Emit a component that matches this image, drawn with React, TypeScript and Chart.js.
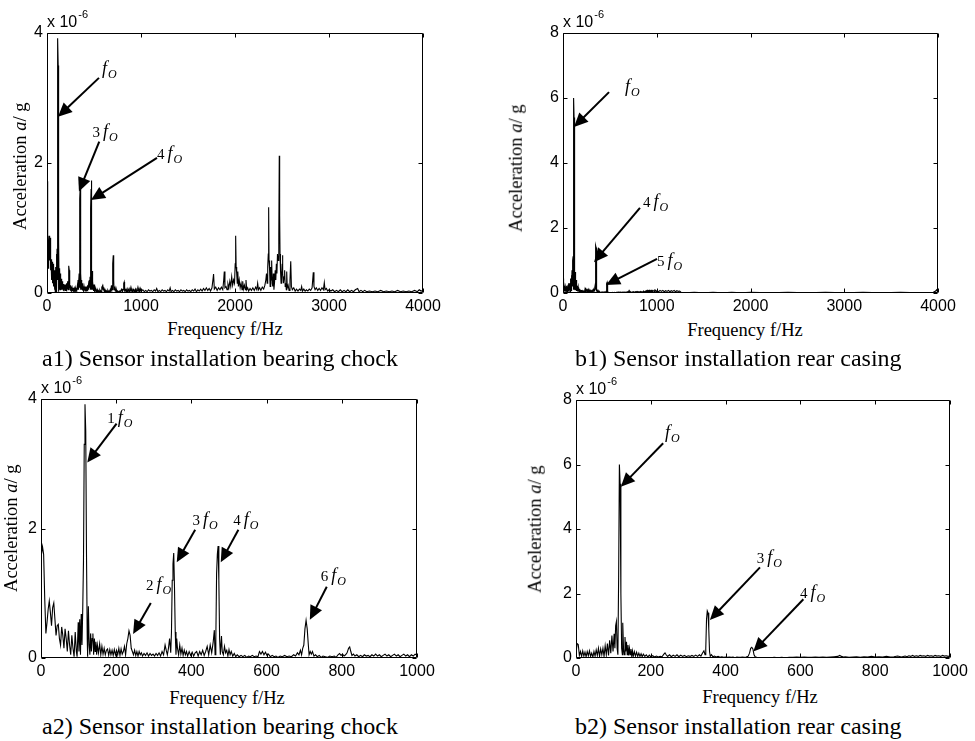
import React, { useEffect, useRef } from "react";
import { Chart, registerables } from "chart.js";

Chart.register(...registerables);

type Pt = [number, number];

// Amplitudes in units of 1e-6 g, frequency in Hz
const chockLowBand: Pt[] = [
  [0, 1.55], [4, 1.72], [7, 1.6], [10, 0.9], [13, 0.38], [16, 0.55], [19, 0.75], [22, 0.88], [25, 0.7], [28, 0.5],
  [31, 0.78], [34, 0.85], [37, 0.6], [40, 0.35], [43, 0.5], [46, 0.52], [49, 0.3], [52, 0.2], [55, 0.48], [58, 0.35],
  [61, 0.15], [64, 0.45], [67, 0.3], [70, 0.1], [73, 0.42], [76, 0.2], [79, 0.05], [82, 0.35], [85, 0.15], [88, 0.02],
  [91, 0.4], [94, 0.1], [96, 0.02], [99, 0.55], [101, 0.1], [103, 0.6], [105, 0.05], [107, 0.68], [109, 0.2], [111, 0.75],
  [113, 1.5], [115, 3.3], [117, 3.92], [119, 3.5], [121, 1.6], [123, 0.3], [124, 0.02], [126, 0.8], [128, 0.2], [130, 0.05],
  [132, 0.38], [134, 0.1], [136, 0.3], [138, 0.38], [140, 0.05], [142, 0.3], [144, 0.1], [146, 0.25], [148, 0.05], [150, 0.2],
  [153, 0.08], [156, 0.22], [159, 0.05], [162, 0.18], [165, 0.06], [168, 0.15], [171, 0.05], [174, 0.12], [177, 0.14], [180, 0.04],
  [183, 0.13], [186, 0.05], [189, 0.12], [192, 0.04], [195, 0.13], [198, 0.05], [201, 0.12], [204, 0.05], [207, 0.15], [210, 0.04],
  [213, 0.14], [216, 0.06], [219, 0.1], [222, 0.18], [225, 0.05], [228, 0.22], [231, 0.3], [234, 0.42], [237, 0.35], [240, 0.15],
  [243, 0.1], [246, 0.05], [249, 0.12], [252, 0.04], [255, 0.1], [258, 0.03], [261, 0.1], [264, 0.05], [267, 0.08], [270, 0.03],
  [274, 0.07], [278, 0.04], [282, 0.08], [286, 0.03], [290, 0.07], [294, 0.04], [298, 0.06], [302, 0.03], [306, 0.07], [310, 0.04],
  [314, 0.08], [318, 0.03], [322, 0.1], [326, 0.05], [330, 0.2], [333, 0.12], [336, 0.05], [339, 0.15], [342, 0.3], [345, 0.08],
  [347, 0.4], [349, 1.2], [351, 1.45], [353, 1.62], [355, 1.1], [357, 0.4], [359, 0.05], [361, 0.3], [363, 0.15], [366, 0.05],
  [369, 0.2], [372, 0.06], [375, 0.15], [378, 0.04], [381, 0.12], [384, 0.05], [387, 0.1], [390, 0.03], [394, 0.1], [398, 0.04],
  [402, 0.09], [406, 0.03], [410, 0.08], [414, 0.1], [418, 0.03], [422, 0.1], [426, 0.05], [430, 0.12], [434, 0.04], [438, 0.1],
  [442, 0.18], [446, 0.05], [450, 0.2], [454, 0.08], [458, 0.25], [461, 0.43], [463, 0.05], [465, 0.3], [467, 1.3], [469, 1.6],
  [471, 1.73], [473, 1.2], [475, 0.3], [477, 0.05], [480, 0.34], [482, 0.1], [485, 0.05], [488, 0.18], [491, 0.08], [494, 0.12],
  [497, 0.03], [500, 0.13], [503, 0.05], [506, 0.1], [510, 0.03], [514, 0.07], [518, 0.02], [522, 0.05], [527, 0.02], [532, 0.04],
  [537, 0.02], [542, 0.04], [547, 0.01], [552, 0.03], [557, 0.02], [562, 0.04], [567, 0.02], [572, 0.03], [577, 0.02], [581, 0.1],
  [585, 0.06], [589, 0.1], [593, 0.05], [597, 0.09], [601, 0.04], [605, 0.06], [610, 0.02], [615, 0.04], [620, 0.02], [625, 0.03],
  [630, 0.01], [636, 0.03], [642, 0.02], [648, 0.04], [654, 0.02], [660, 0.03], [666, 0.02], [672, 0.05], [677, 0.03], [682, 0.08],
  [686, 0.05], [690, 0.12], [693, 0.05], [696, 0.15], [699, 0.2], [702, 0.45], [705, 0.58], [708, 0.45], [711, 0.2], [713, 0.05],
  [716, 0.1], [719, 0.06], [722, 0.1], [726, 0.03], [730, 0.05], [735, 0.02], [740, 0.04], [745, 0.01], [750, 0.03], [756, 0.02],
  [762, 0.01], [768, 0.03], [774, 0.02], [780, 0.03], [785, 0.01], [790, 0.05], [794, 0.07], [798, 0.04], [802, 0.06], [806, 0.03],
  [810, 0.05], [814, 0.08], [818, 0.15], [821, 0.17], [824, 0.1], [827, 0.04], [831, 0.06], [835, 0.03], [840, 0.05], [845, 0.02],
  [850, 0.04], [855, 0.02], [860, 0.05], [865, 0.03], [870, 0.04], [875, 0.02], [880, 0.05], [885, 0.03], [890, 0.06], [895, 0.03],
  [900, 0.05], [905, 0.02], [910, 0.04], [915, 0.06], [920, 0.03], [925, 0.05], [930, 0.02], [935, 0.04], [940, 0.06], [945, 0.03],
  [950, 0.05], [955, 0.02], [960, 0.04], [965, 0.06], [970, 0.03], [975, 0.05], [980, 0.02], [985, 0.05], [990, 0.03], [995, 0.06],
  [1000, 0.04],
];

const chockHighBand: Pt[] = [
  [1005, 0.03], [1020, 0.05], [1035, 0.02], [1050, 0.04], [1065, 0.02], [1080, 0.05], [1095, 0.03], [1110, 0.04], [1125, 0.02], [1140, 0.05],
  [1155, 0.03], [1167, 0.07], [1180, 0.02], [1195, 0.04], [1210, 0.02], [1225, 0.05], [1240, 0.03], [1255, 0.04], [1270, 0.02], [1285, 0.05],
  [1300, 0.03], [1310, 0.08], [1320, 0.02], [1335, 0.04], [1350, 0.02], [1365, 0.05], [1380, 0.03], [1395, 0.04], [1410, 0.02], [1425, 0.05],
  [1440, 0.03], [1455, 0.04], [1470, 0.02], [1485, 0.05], [1500, 0.03], [1515, 0.04], [1530, 0.02], [1545, 0.05], [1560, 0.03], [1575, 0.06],
  [1590, 0.02], [1605, 0.05], [1620, 0.03], [1635, 0.06], [1650, 0.03], [1665, 0.07], [1680, 0.04], [1695, 0.08], [1710, 0.04], [1725, 0.07],
  [1740, 0.03], [1755, 0.08], [1765, 0.2], [1772, 0.29], [1780, 0.06], [1795, 0.09], [1810, 0.04], [1825, 0.08], [1840, 0.05], [1855, 0.09],
  [1870, 0.05], [1880, 0.2], [1886, 0.33], [1893, 0.08], [1905, 0.1], [1915, 0.05], [1925, 0.14], [1935, 0.08], [1945, 0.18], [1955, 0.1],
  [1965, 0.25], [1975, 0.12], [1985, 0.2], [1995, 0.15], [2002, 0.45], [2007, 0.88], [2012, 0.4], [2018, 0.3], [2024, 0.15], [2030, 0.33],
  [2036, 0.1], [2045, 0.2], [2055, 0.08], [2065, 0.15], [2075, 0.05], [2082, 0.18], [2090, 0.06], [2100, 0.12], [2110, 0.05], [2117, 0.2],
  [2125, 0.05], [2135, 0.08], [2145, 0.03], [2160, 0.07], [2175, 0.04], [2190, 0.08], [2205, 0.04], [2220, 0.09], [2232, 0.05], [2241, 0.15],
  [2250, 0.05], [2262, 0.08], [2275, 0.04], [2290, 0.09], [2305, 0.06], [2318, 0.12], [2328, 0.2], [2335, 0.3], [2342, 0.15], [2348, 0.4],
  [2354, 0.6], [2358, 1.32], [2362, 0.5], [2368, 0.35], [2374, 0.1], [2380, 0.4], [2386, 0.2], [2390, 0.5], [2396, 0.15], [2402, 0.1],
  [2408, 0.3], [2414, 0.05], [2420, 0.15], [2428, 0.35], [2434, 0.2], [2440, 0.45], [2446, 0.3], [2452, 0.6], [2458, 0.5], [2464, 0.72],
  [2468, 0.9], [2471, 2.11], [2475, 1.2], [2479, 0.6], [2484, 0.35], [2490, 0.15], [2496, 0.3], [2502, 0.45], [2505, 0.58], [2509, 0.3],
  [2515, 0.15], [2522, 0.25], [2528, 0.35], [2534, 0.1], [2540, 0.15], [2546, 0.05], [2550, 0.33], [2556, 0.08], [2565, 0.12], [2575, 0.04],
  [2585, 0.2], [2593, 0.49], [2600, 0.1], [2610, 0.05], [2625, 0.08], [2640, 0.03], [2655, 0.06], [2670, 0.03], [2685, 0.06], [2700, 0.04],
  [2709, 0.1], [2718, 0.03], [2732, 0.06], [2746, 0.03], [2760, 0.05], [2775, 0.03], [2790, 0.06], [2805, 0.04], [2820, 0.08], [2833, 0.32],
  [2840, 0.1], [2852, 0.05], [2865, 0.08], [2880, 0.04], [2895, 0.07], [2910, 0.04], [2925, 0.08], [2940, 0.05], [2950, 0.16], [2958, 0.05],
  [2972, 0.07], [2986, 0.03], [3000, 0.05], [3020, 0.03], [3040, 0.05], [3060, 0.02], [3080, 0.04], [3100, 0.02], [3120, 0.05], [3140, 0.02],
  [3160, 0.04], [3180, 0.02], [3200, 0.05], [3220, 0.02], [3240, 0.04], [3260, 0.02], [3280, 0.05], [3305, 0.07], [3320, 0.02], [3340, 0.04],
  [3360, 0.02], [3380, 0.04], [3400, 0.02], [3430, 0.03], [3460, 0.02], [3490, 0.03], [3520, 0.02], [3550, 0.04], [3580, 0.02], [3610, 0.03],
  [3640, 0.02], [3670, 0.03], [3700, 0.02], [3730, 0.04], [3760, 0.02], [3790, 0.03], [3820, 0.02], [3850, 0.03], [3880, 0.02], [3910, 0.04],
  [3940, 0.02], [3960, 0.05], [3980, 0.03], [4000, 0.04],
];

const casingLowBand: Pt[] = [
  [0, 0.15], [3, 0.45], [6, 0.42], [9, 0.08], [12, 0.2], [15, 0.05], [18, 0.22], [21, 0.06], [24, 0.18], [27, 0.04],
  [30, 0.2], [33, 0.07], [36, 0.22], [39, 0.05], [42, 0.15], [45, 0.03], [48, 0.2], [51, 0.06], [54, 0.25], [57, 0.08],
  [60, 0.3], [63, 0.05], [66, 0.28], [69, 0.1], [72, 0.3], [75, 0.05], [78, 0.38], [81, 0.1], [84, 0.45], [87, 0.08],
  [90, 0.55], [93, 0.15], [96, 0.7], [99, 0.2], [102, 0.75], [104, 0.3], [106, 1.0], [108, 1.13], [110, 0.3], [112, 0.1],
  [114, 2.5], [116, 6.0], [118, 5.4], [120, 2.0], [122, 0.3], [124, 0.1], [125, 1.09], [127, 0.3], [129, 0.1], [131, 0.65],
  [133, 0.2], [135, 0.5], [137, 0.1], [139, 0.4], [141, 0.08], [143, 0.3], [145, 0.1], [147, 0.28], [149, 0.06], [151, 0.22],
  [153, 0.05], [156, 0.2], [159, 0.06], [162, 0.18], [165, 0.05], [168, 0.15], [171, 0.05], [174, 0.13], [177, 0.04], [180, 0.12],
  [184, 0.05], [188, 0.1], [192, 0.03], [196, 0.09], [200, 0.04], [205, 0.07], [210, 0.03], [215, 0.06], [220, 0.03], [225, 0.05],
  [230, 0.04], [235, 0.12], [238, 0.16], [241, 0.1], [245, 0.05], [250, 0.1], [255, 0.04], [260, 0.09], [265, 0.05], [270, 0.1],
  [275, 0.04], [280, 0.09], [285, 0.05], [290, 0.08], [295, 0.04], [300, 0.07], [305, 0.05], [310, 0.08], [315, 0.05], [320, 0.09],
  [325, 0.05], [330, 0.1], [334, 0.06], [338, 0.15], [342, 0.22], [345, 0.1], [347, 0.3], [349, 1.2], [351, 1.46], [353, 1.4],
  [355, 0.9], [357, 0.2], [359, 0.05], [362, 0.1], [366, 0.04], [370, 0.06], [375, 0.03], [380, 0.05], [385, 0.02], [390, 0.04],
  [395, 0.02], [400, 0.03], [405, 0.02], [410, 0.03], [415, 0.02], [420, 0.03], [425, 0.01], [430, 0.03], [435, 0.02], [440, 0.02],
  [445, 0.03], [450, 0.02], [455, 0.03], [460, 0.05], [464, 0.15], [467, 0.3], [470, 0.33], [473, 0.28], [476, 0.1], [479, 0.04],
  [483, 0.02], [490, 0.01], [500, 0.01], [510, 0.01], [520, 0.01], [530, 0.02], [540, 0.01], [550, 0.02], [560, 0.01], [570, 0.02],
  [580, 0.02], [590, 0.03], [600, 0.02], [610, 0.03], [620, 0.02], [630, 0.02], [640, 0.03], [650, 0.02], [660, 0.03], [670, 0.02],
  [680, 0.03], [690, 0.04], [700, 0.05], [705, 0.08], [710, 0.05], [715, 0.03], [720, 0.04], [730, 0.02], [740, 0.03], [750, 0.04],
  [760, 0.02], [770, 0.04], [780, 0.03], [790, 0.05], [800, 0.03], [810, 0.04], [820, 0.03], [830, 0.05], [840, 0.03], [850, 0.04],
  [860, 0.06], [870, 0.03], [880, 0.06], [885, 0.04], [890, 0.07], [895, 0.05], [900, 0.08], [905, 0.05], [910, 0.07], [915, 0.05],
  [920, 0.08], [925, 0.06], [930, 0.07], [935, 0.05], [940, 0.08], [945, 0.06], [950, 0.07], [955, 0.05], [960, 0.08], [965, 0.06],
  [970, 0.07], [975, 0.05], [980, 0.08], [985, 0.06], [990, 0.07], [995, 0.05], [1000, 0.06],
];

const casingHighBand: Pt[] = [
  [1005, 0.07], [1020, 0.04], [1035, 0.08], [1050, 0.05], [1065, 0.08], [1080, 0.04], [1095, 0.07], [1110, 0.05], [1125, 0.08], [1140, 0.04],
  [1155, 0.07], [1170, 0.05], [1185, 0.08], [1200, 0.04], [1215, 0.07], [1230, 0.05], [1245, 0.06], [1260, 0.02], [1300, 0.01], [1400, 0.02],
  [1500, 0.01], [1600, 0.02], [1700, 0.01], [1800, 0.02], [1900, 0.01], [2000, 0.02], [2200, 0.01], [2400, 0.02], [2600, 0.01], [2800, 0.02],
  [3000, 0.01], [3200, 0.02], [3400, 0.01], [3600, 0.02], [3800, 0.01], [3950, 0.02], [3975, 0.06], [3985, 0.1], [3995, 0.04], [4000, 0.02],
];

const wideFreqTicks = [0, 1000, 2000, 3000, 4000];
const narrowFreqTicks = [0, 200, 400, 600, 800, 1000];
const chockAmpTicks = [0, 2, 4];
const casingAmpTicks = [0, 2, 4, 6, 8];

const captionTexts = [
  "a1) Sensor installation bearing chock",
  "b1) Sensor installation rear casing",
  "a2) Sensor installation bearing chock",
  "b2) Sensor installation rear casing",
];

type Arrow = { prefix: string; labelAt: Pt; tail: Pt; tip: Pt };

const a1Arrows: Arrow[] = [
  { prefix: "", labelAt: [585, 3.37], tail: [553, 3.31], tip: [117, 2.71] },
  { prefix: "3", labelAt: [484, 2.4], tail: [556, 2.33], tip: [340, 1.56] },
  { prefix: "4", labelAt: [1170, 2.06], tail: [1170, 2.08], tip: [468, 1.43] },
];
const b1Arrows: Arrow[] = [
  { prefix: "", labelAt: [661, 6.18], tail: [491, 6.18], tip: [117, 5.11] },
  { prefix: "4", labelAt: [853, 2.65], tail: [821, 2.62], tip: [331, 0.95] },
  { prefix: "5", labelAt: [1003, 0.83], tail: [1003, 1.05], tip: [459, 0.25] },
];
const a2Arrows: Arrow[] = [
  { prefix: "1", labelAt: [176, 3.63], tail: [201, 3.62], tip: [123, 3.02] },
  { prefix: "2", labelAt: [279, 1.05], tail: [292, 0.85], tip: [245, 0.37] },
  { prefix: "3", labelAt: [403, 2.05], tail: [410, 1.98], tip: [361, 1.48] },
  { prefix: "4", labelAt: [511, 2.05], tail: [525, 1.98], tip: [478, 1.48] },
  { prefix: "6", labelAt: [744, 1.19], tail: [760, 1.1], tip: [715, 0.59] },
];
const b2Arrows: Arrow[] = [
  { prefix: "", labelAt: [238, 6.82], tail: [233, 6.66], tip: [120, 5.31] },
  { prefix: "3", labelAt: [483, 2.95], tail: [492, 2.81], tip: [358, 1.18] },
  { prefix: "4", labelAt: [599, 1.86], tail: [608, 1.82], tip: [474, 0.2] },
];

const SANS = '"Liberation Sans", Arial, Helvetica, sans-serif';
const SERIF = '"Liberation Serif", "Times New Roman", Times, serif';

const PAD_L = 42;
const PAD_T = 30;
const PAD_R = 26;
const PAD_B = 24;

type PanelProps = {
  plot: { l: number; t: number; r: number; b: number };
  series: Pt[];
  xTicks: number[];
  yTicks: number[];
  arrows: Arrow[];
};

function Panel({ plot, series, xTicks, yTicks, arrows }: PanelProps) {
  const ref = useRef<HTMLCanvasElement | null>(null);
  const width = plot.r - plot.l + PAD_L + PAD_R;
  const height = plot.b - plot.t + PAD_T + PAD_B;

  useEffect(() => {
    const canvas = ref.current;
    if (!canvas) return;
    const xMax = xTicks[xTicks.length - 1];
    const yMax = yTicks[yTicks.length - 1];

    const framePlugin = {
      id: "frameAndNotes",
      afterDatasetsDraw(chart: any) {
        const ctx: CanvasRenderingContext2D = chart.ctx;
        const { left, right, top, bottom } = chart.chartArea;
        const xs = chart.scales.x;
        const ys = chart.scales.y;
        ctx.save();
        ctx.strokeStyle = "#000";
        ctx.fillStyle = "#000";
        ctx.lineWidth = 1;
        const L = Math.round(left) + 0.5;
        const R = Math.round(right) - 0.5;
        const T = Math.round(top) + 0.5;
        const B = Math.round(bottom) - 0.5;
        ctx.beginPath();
        ctx.rect(L, T, R - L, B - T);
        ctx.stroke();
        const tl = 4;
        ctx.beginPath();
        for (const v of xTicks) {
          const px = Math.round(xs.getPixelForValue(v)) + 0.5;
          ctx.moveTo(px, B);
          ctx.lineTo(px, B - tl);
          ctx.moveTo(px, T);
          ctx.lineTo(px, T + tl);
        }
        for (const v of yTicks) {
          const py = Math.round(ys.getPixelForValue(v)) + 0.5;
          ctx.moveTo(L, py);
          ctx.lineTo(L + tl, py);
          ctx.moveTo(R, py);
          ctx.lineTo(R - tl, py);
        }
        ctx.stroke();

        // exponent label
        ctx.textAlign = "left";
        ctx.textBaseline = "alphabetic";
        ctx.font = `16px ${SANS}`;
        ctx.fillText("x 10", left, top - 6);
        const w = ctx.measureText("x 10").width;
        ctx.font = `11px ${SANS}`;
        ctx.fillText("-6", left + w + 1, top - 15);

        // arrows and labels
        for (const a of arrows) {
          const tx = xs.getPixelForValue(a.tail[0]);
          const ty = ys.getPixelForValue(a.tail[1]);
          const hx = xs.getPixelForValue(a.tip[0]);
          const hy = ys.getPixelForValue(a.tip[1]);
          const dx = hx - tx;
          const dy = hy - ty;
          const len = Math.hypot(dx, dy);
          const ux = dx / len;
          const uy = dy / len;
          const headLen = 14;
          const headW = 6.5;
          const bx = hx - ux * headLen;
          const by = hy - uy * headLen;
          ctx.lineWidth = 2;
          ctx.beginPath();
          ctx.moveTo(tx, ty);
          ctx.lineTo(bx + ux * 2, by + uy * 2);
          ctx.stroke();
          ctx.beginPath();
          ctx.moveTo(hx, hy);
          ctx.lineTo(bx - uy * headW, by + ux * headW);
          ctx.lineTo(bx + uy * headW, by - ux * headW);
          ctx.closePath();
          ctx.fill();

          let lx = xs.getPixelForValue(a.labelAt[0]);
          const ly = ys.getPixelForValue(a.labelAt[1]);
          if (a.prefix) {
            ctx.font = `15px ${SERIF}`;
            ctx.fillText(a.prefix, lx, ly);
            lx += ctx.measureText(a.prefix).width + 3;
          }
          ctx.font = `italic 18px ${SERIF}`;
          ctx.fillText("f", lx, ly);
          lx += ctx.measureText("f").width + 1;
          ctx.font = `italic 12px ${SERIF}`;
          ctx.fillText("O", lx, ly + 4);
        }
        ctx.restore();
      },
    };

    const chart = new Chart(canvas, {
      type: "scatter",
      data: {
        datasets: [
          {
            data: series.map(([x, y]) => ({ x, y })),
            showLine: true,
            borderColor: "#000",
            borderWidth: 1.1,
            pointRadius: 0,
            tension: 0,
            fill: false,
          } as any,
        ],
      },
      options: {
        animation: false,
        responsive: false,
        maintainAspectRatio: false,
        devicePixelRatio: 1,
        events: [],
        layout: { padding: { top: PAD_T, right: PAD_R, left: 0, bottom: 0 } },
        plugins: { legend: { display: false }, tooltip: { enabled: false } },
        scales: {
          x: {
            type: "linear",
            min: 0,
            max: xMax,
            afterBuildTicks: (s: any) => {
              s.ticks = xTicks.map((v) => ({ value: v }));
            },
            ticks: {
              font: { family: SANS, size: 16 },
              color: "#000",
              padding: 4,
              maxRotation: 0,
              autoSkip: false,
              callback: (v: any) => String(v),
            },
            grid: { display: false, drawTicks: false },
            border: { display: false },
            afterFit: (s: any) => {
              s.height = PAD_B;
              s.paddingLeft = 0;
              s.paddingRight = 0;
            },
          },
          y: {
            type: "linear",
            min: 0,
            max: yMax,
            afterBuildTicks: (s: any) => {
              s.ticks = yTicks.map((v) => ({ value: v }));
            },
            ticks: {
              font: { family: SANS, size: 16 },
              color: "#000",
              padding: 4,
              callback: (v: any) => String(v),
            },
            grid: { display: false, drawTicks: false },
            border: { display: false },
            afterFit: (s: any) => {
              s.width = PAD_L;
              s.paddingTop = 0;
              s.paddingBottom = 0;
            },
          },
        },
      } as any,
      plugins: [framePlugin],
    });
    return () => chart.destroy();
  }, [plot, series, xTicks, yTicks, arrows]);

  return (
    <canvas
      ref={ref}
      width={width}
      height={height}
      style={{
        position: "absolute",
        left: plot.l - PAD_L,
        top: plot.t - PAD_T,
        width,
        height,
      }}
    />
  );
}

function YTitle({ cx, cy }: { cx: number; cy: number }) {
  const W = 220;
  const H = 18.5;
  return (
    <div
      style={{
        position: "absolute",
        left: cx - W / 2,
        top: cy - H / 2,
        width: W,
        height: H,
        lineHeight: `${H}px`,
        fontFamily: SERIF,
        fontSize: 18.5,
        textAlign: "center",
        whiteSpace: "nowrap",
        transform: "rotate(-90deg)",
        transformOrigin: "50% 50%",
        color: "#000",
      }}
    >
      Acceleration <i>a</i>/ g
    </div>
  );
}

function XTitle({ cx, top }: { cx: number; top: number }) {
  const W = 220;
  return (
    <div
      style={{
        position: "absolute",
        left: cx - W / 2,
        top,
        width: W,
        lineHeight: 1,
        fontFamily: SERIF,
        fontSize: 18.5,
        textAlign: "center",
        whiteSpace: "nowrap",
        color: "#000",
      }}
    >
      Frequency f/Hz
    </div>
  );
}

function Caption({ left, top, text }: { left: number; top: number; text: string }) {
  return (
    <div
      style={{
        position: "absolute",
        left,
        top,
        lineHeight: 1,
        fontFamily: SERIF,
        fontSize: 24,
        whiteSpace: "nowrap",
        color: "#000",
      }}
    >
      {text}
    </div>
  );
}

const a1Series = [...chockLowBand, ...chockHighBand];
const b1Series = [...casingLowBand, ...casingHighBand];

const plotA1 = { l: 47, t: 33, r: 423, b: 293 };
const plotB1 = { l: 563, t: 33, r: 938, b: 293 };
const plotA2 = { l: 41, t: 399, r: 417, b: 658 };
const plotB2 = { l: 576, t: 400, r: 950, b: 658 };

export default function App() {
  return (
    <div
      style={{
        position: "absolute",
        left: 0,
        top: 0,
        width: 975,
        height: 741,
        background: "#fff",
        overflow: "hidden",
      }}
    >
      <Panel plot={plotA1} series={a1Series} xTicks={wideFreqTicks} yTicks={chockAmpTicks} arrows={a1Arrows} />
      <Panel plot={plotB1} series={b1Series} xTicks={wideFreqTicks} yTicks={casingAmpTicks} arrows={b1Arrows} />
      <Panel plot={plotA2} series={chockLowBand} xTicks={narrowFreqTicks} yTicks={chockAmpTicks} arrows={a2Arrows} />
      <Panel plot={plotB2} series={casingLowBand} xTicks={narrowFreqTicks} yTicks={casingAmpTicks} arrows={b2Arrows} />

      <YTitle cx={19.75} cy={166.5} />
      <YTitle cx={516} cy={168} />
      <YTitle cx={10.5} cy={528} />
      <YTitle cx={535} cy={529} />

      <XTitle cx={225} top={320} />
      <XTitle cx={745} top={321} />
      <XTitle cx={227} top={689} />
      <XTitle cx={760} top={688} />

      <Caption left={42} top={346} text={captionTexts[0]} />
      <Caption left={575} top={346} text={captionTexts[1]} />
      <Caption left={42} top={714} text={captionTexts[2]} />
      <Caption left={575} top={714} text={captionTexts[3]} />
    </div>
  );
}
